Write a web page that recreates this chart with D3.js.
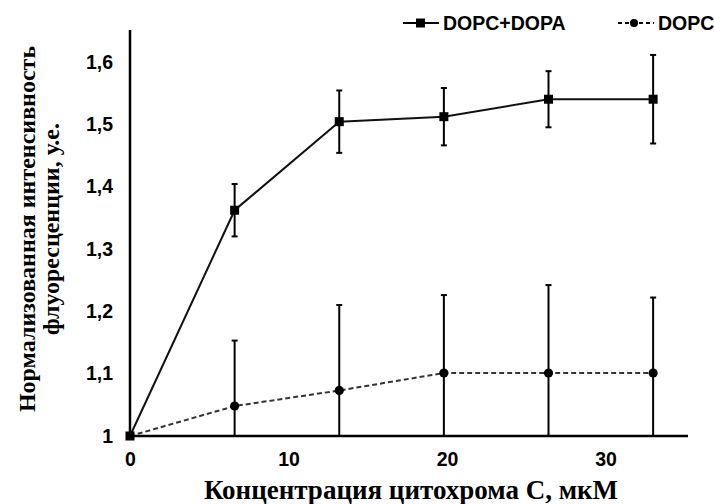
<!DOCTYPE html>
<html>
<head>
<meta charset="utf-8">
<script src="https://cdn.jsdelivr.net/npm/d3@7"></script>
<style>
  body { margin: 0; background: #fff; }
  text { fill: #000; }
</style>
</head>
<body>
<div id="chart"></div>
<script>
let width = 714,
    height = 504,
    margin = ({ top: 30, right: 26, bottom: 68, left: 130 });

// concentration, uM
const conc = [0, 6.6, 13.2, 19.8, 26.4, 33];
// DOPC+DOPA
const dopaMean = [1, 1.362, 1.504, 1.512, 1.540, 1.540];
const dopaErr = [0, 0.042, 0.050, 0.046, 0.045, 0.071];
// DOPC
const dopcMean = [1, 1.048, 1.073, 1.101, 1.101, 1.101];
const dopcErr = [0, 0.105, 0.137, 0.125, 0.141, 0.121];

const xTicks = [0, 10, 20, 30];
const yTicks = [1, 1.1, 1.2, 1.3, 1.4, 1.5, 1.6];
const seriesNames = ["DOPC+DOPA", "DOPC"];

const svg = d3.select("#chart")
  .append("svg")
  .attr("width", width)
  .attr("height", height);

let x = d3.scaleLinear()
  .domain([0, 35.2])
  .range([margin.left, width - margin.right]);

let y = d3.scaleLinear()
  .domain([1, 1.651])
  .range([height - margin.bottom, margin.top]);

svg.append("defs").append("clipPath")
  .attr("id", "plot")
  .append("rect")
  .attr("x", margin.left)
  .attr("y", 0)
  .attr("width", width - margin.left)
  .attr("height", y(1));

const series = [
  { name: seriesNames[0], mean: dopaMean, err: dopaErr, dash: null, color: "#111" },
  { name: seriesNames[1], mean: dopcMean, err: dopcErr, dash: "5,3", color: "#333" }
];

let line = d3.line()
  .x(d => x(d.x))
  .y(d => y(d.y));

for (let s of series) {
  let pts = conc.map((c, i) => ({ x: c, y: s.mean[i], e: s.err[i] }));
  let g = svg.append("g").attr("clip-path", "url(#plot)");

  // error bars
  let eb = g.selectAll(".err")
    .data(pts.filter(d => d.e > 0))
    .join("g");
  eb.append("line")
    .attr("x1", d => x(d.x)).attr("x2", d => x(d.x))
    .attr("y1", d => y(d.y - d.e)).attr("y2", d => y(d.y + d.e))
    .attr("stroke", "#000").attr("stroke-width", 2);
  eb.append("line")
    .attr("x1", d => x(d.x) - 3).attr("x2", d => x(d.x) + 3)
    .attr("y1", d => y(d.y + d.e)).attr("y2", d => y(d.y + d.e))
    .attr("stroke", "#000").attr("stroke-width", 2);
  eb.append("line")
    .attr("x1", d => x(d.x) - 3).attr("x2", d => x(d.x) + 3)
    .attr("y1", d => y(d.y - d.e)).attr("y2", d => y(d.y - d.e))
    .attr("stroke", "#000").attr("stroke-width", 2);

  svg.append("path")
    .datum(pts)
    .attr("d", line)
    .attr("fill", "none")
    .attr("stroke", s.color)
    .attr("stroke-width", 2)
    .attr("stroke-dasharray", s.dash);
}

// axes (no tick marks)
svg.append("g")
  .attr("transform", `translate(0,${y(1)})`)
  .call(d3.axisBottom(x).tickValues(xTicks).tickSize(0).tickPadding(16))
  .call(g => g.select(".domain").attr("stroke-width", 2.5).attr("d", `M${margin.left},0H${width - margin.right}`));

svg.append("g")
  .attr("transform", `translate(${margin.left},0)`)
  .call(d3.axisLeft(y).tickValues(yTicks).tickSize(0).tickPadding(17)
    .tickFormat(d => d3.format(".1~f")(d).replace(".", ",")))
  .call(g => g.select(".domain").attr("stroke-width", 2.5).attr("d", `M0,${y(1)}V${margin.top}`));

svg.selectAll(".tick text")
  .attr("font-family", "Liberation Sans, Arial, sans-serif")
  .attr("font-weight", "bold")
  .attr("font-size", 19.5)
  .attr("fill", "#111");

// markers drawn on top of the axes
svg.append("g").selectAll("rect")
  .data(conc.map((c, i) => ({ x: c, y: dopaMean[i] })))
  .join("rect")
  .attr("x", d => x(d.x) - 4.5)
  .attr("y", d => y(d.y) - 4.5)
  .attr("width", 9)
  .attr("height", 9)
  .attr("fill", "#000");

svg.append("g").selectAll("circle")
  .data(conc.map((c, i) => ({ x: c, y: dopcMean[i] })).slice(1))
  .join("circle")
  .attr("cx", d => x(d.x))
  .attr("cy", d => y(d.y))
  .attr("r", 4.6)
  .attr("fill", "#000");

// axis labels
svg.append("text")
  .attr("x", 411)
  .attr("y", 499)
  .attr("text-anchor", "middle")
  .attr("font-family", "Liberation Serif, Times New Roman, serif")
  .attr("font-weight", "bold")
  .attr("font-size", 27)
  .text("Концентрация цитохрома С, мкМ");

let yl = svg.append("text")
  .attr("transform", "translate(0,229) rotate(-90)")
  .attr("text-anchor", "middle")
  .attr("font-family", "Liberation Serif, Times New Roman, serif")
  .attr("font-weight", "bold")
  .attr("font-size", 24);
yl.append("tspan").attr("x", 0).attr("y", 35).text("Нормализованная интенсивность");
yl.append("tspan").attr("x", 0).attr("y", 59).text("флуоресценции, у.е.");

// legend
const legend = svg.append("g");
const legendX = [403, 618];
series.forEach((s, i) => {
  let lg = legend.append("g").attr("transform", `translate(${legendX[i]},23)`);
  lg.append("line")
    .attr("x1", 0).attr("x2", 36)
    .attr("stroke", "#000").attr("stroke-width", 2)
    .attr("stroke-dasharray", s.dash ? "4,3" : null);
  if (i === 0) {
    lg.append("rect").attr("x", 13).attr("y", -4.5).attr("width", 9).attr("height", 9).attr("fill", "#000");
  } else {
    lg.append("circle").attr("cx", 16).attr("r", 4).attr("fill", "#000");
  }
  lg.append("text")
    .attr("x", 40)
    .attr("y", 7)
    .attr("font-family", "Liberation Sans, Arial, sans-serif")
    .attr("font-weight", "bold")
    .attr("font-size", 19.5)
    .text(s.name);
});
</script>
</body>
</html>
